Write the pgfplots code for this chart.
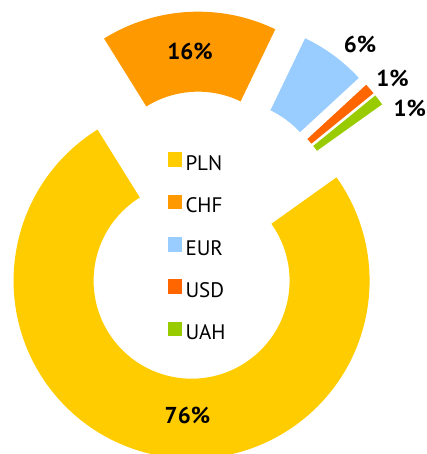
\documentclass[border=0pt]{standalone}
\usepackage{pgfplots}
\usepackage{pgfplotstable}
\pgfplotsset{compat=1.18}
\usepackage{fontspec}
\setmainfont{PT Sans}

\definecolor{pln}{HTML}{FFCC00}
\definecolor{chf}{HTML}{FF9900}
\definecolor{eur}{HTML}{99CCFF}
\definecolor{usd}{HTML}{FF6600}
\definecolor{uah}{HTML}{99CC00}

% share in %, slice colour, label angle / radius (from the donut centre)
\pgfplotstableread{
label value color la    lr
PLN   76    pln   265.8 180
CHF   16    chf   93.3  184
EUR   6     eur   50.2  249
USD   1     usd   39.3  248
UAH   1     uah   31.4  245
}\donutdata

\tikzset{pct/.style={font=\bfseries\fontsize{23}{26}\selectfont, text=black}}

\begin{document}
\begin{tikzpicture}
\begin{axis}[
  scale only axis,
  width=427pt, height=454pt,
  xmin=0, xmax=427, ymin=0, ymax=454,
  enlargelimits=false,
  hide axis,
  legend image code/.code={\fill[#1] (0pt,-1.3pt) rectangle (14.5pt,13.3pt);},
  legend style={at={(axis cs:167.3,301.8)}, anchor=north west,
    draw=none, fill=none, inner sep=0pt, row sep=20pt, column sep=3.5pt,
    font=\fontsize{21}{24}\selectfont,
    nodes={inner sep=0pt, text height=14pt, text depth=4pt}},
  legend cell align=left,
]
\def\Cx{200.6}\def\Cy{218.4}\def\explode{46}
\def\rin{98}\def\rout{178}
\def\curA{35.5}
\pgfplotsforeachungrouped \i in {0,...,4}{%
  \pgfplotstablegetelem{\i}{value}\of{\donutdata}\let\val\pgfplotsretval
  \pgfplotstablegetelem{\i}{color}\of{\donutdata}\let\col\pgfplotsretval
  \pgfplotstablegetelem{\i}{la}\of{\donutdata}\let\la\pgfplotsretval
  \pgfplotstablegetelem{\i}{lr}\of{\donutdata}\let\lr\pgfplotsretval
  \pgfmathsetmacro{\aEnd}{\curA}
  \pgfmathsetmacro{\aStart}{\curA-3.6*\val}
  \pgfmathsetmacro{\aMid}{(\aStart+\aEnd)/2}
  \pgfmathsetmacro{\cx}{\Cx+\explode*cos(\aMid)}
  \pgfmathsetmacro{\cy}{\Cy+\explode*sin(\aMid)}
  \pgfmathsetmacro{\xo}{\cx+\rout*cos(\aStart)}
  \pgfmathsetmacro{\yo}{\cy+\rout*sin(\aStart)}
  \pgfmathsetmacro{\xi}{\cx+\rin*cos(\aEnd)}
  \pgfmathsetmacro{\yi}{\cy+\rin*sin(\aEnd)}
  \pgfmathsetmacro{\lx}{\Cx+\lr*cos(\la)}
  \pgfmathsetmacro{\ly}{\Cy+\lr*sin(\la)}
  \edef\temp{%
    \noexpand\fill[\col] (axis cs:\xo,\yo)
      arc[start angle=\aStart, end angle=\aEnd, radius=\rout pt]
      -- (axis cs:\xi,\yi)
      arc[start angle=\aEnd, end angle=\aStart, radius=\rin pt] -- cycle;
    \noexpand\node[pct] at (axis cs:\lx,\ly) {\val\noexpand\%};
  }%
  \temp
  \global\let\curA\aStart
}

\addlegendimage{fill=pln, draw=none}\addlegendentry{PLN}
\addlegendimage{fill=chf, draw=none}\addlegendentry{CHF}
\addlegendimage{fill=eur, draw=none}\addlegendentry{EUR}
\addlegendimage{fill=usd, draw=none}\addlegendentry{USD}
\addlegendimage{fill=uah, draw=none}\addlegendentry{UAH}
\end{axis}
\pgfresetboundingbox
\useasboundingbox (current axis.south west) rectangle (current axis.north east);
\end{tikzpicture}
\end{document}
